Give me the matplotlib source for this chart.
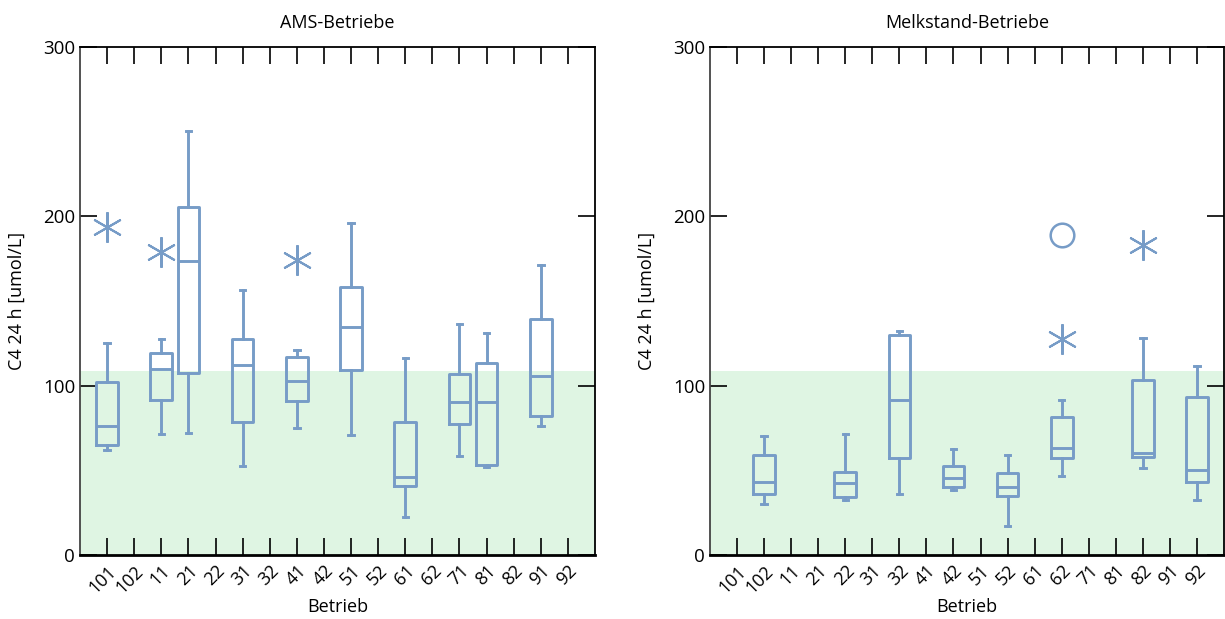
import matplotlib
matplotlib.use("Agg")
import matplotlib.pyplot as plt

plt.rcParams['font.family'] = ['Open Sans', 'DejaVu Sans']

titles = ["AMS-Betriebe", "Melkstand-Betriebe"]
ylabel = "C4 24 h [umol/L]"
xlabel = "Betrieb"
ref_upper = 108.5

# tick categories (same on both panels)
ams_ticks = ["101", "102", "11", "21", "22", "31", "32", "41", "42",
             "51", "52", "61", "62", "71", "81", "82", "91", "92"]
mk_ticks = ["101", "102", "11", "21", "22", "31", "32", "41", "42",
            "51", "52", "61", "62", "71", "81", "82", "91", "92"]

# AMS panel
ams_box_cats = ["101", "11", "21", "31", "41", "51", "61", "71", "81", "91"]
ams_whislo = [62.2, 71.3, 72.3, 52.4, 75.2, 71.1, 22.3, 58.3, 52.2, 76.2]
ams_q1 = [65.1, 91.3, 107.3, 78.5, 91.1, 109.1, 40.7, 77.6, 53.1, 82.1]
ams_med = [76.2, 109.8, 173.4, 112.4, 102.8, 134.8, 46.3, 90.2, 90.4, 105.7]
ams_q3 = [102.3, 119.5, 205.5, 127.4, 117.1, 158.3, 78.5, 106.7, 113.4, 139.2]
ams_whishi = [125.4, 127.4, 250.4, 156.3, 121.2, 196.2, 116.1, 136.2, 131.1, 171.3]
ams_star_cats = ["101", "11", "41"]
ams_star_vals = [193.9, 179.1, 174.2]
ams_circle_cats = []
ams_circle_vals = []

# Melkstand panel
mk_box_cats = ["102", "22", "32", "42", "52", "62", "82", "92"]
mk_whislo = [30.3, 32.3, 36.2, 38.2, 17.3, 46.5, 51.4, 32.3]
mk_q1 = [36.2, 34.4, 57.5, 40.4, 34.8, 57.5, 58.1, 43.1]
mk_med = [42.9, 42.3, 91.7, 45.5, 40.4, 63.2, 60.1, 50.2]
mk_q3 = [59.2, 49.2, 130.1, 52.8, 48.2, 81.7, 103.2, 93.3]
mk_whishi = [70.3, 71.3, 132.3, 62.6, 59.2, 91.3, 128.3, 111.4]
mk_star_cats = ["62", "82"]
mk_star_vals = [127.4, 183.3]
mk_circle_cats = ["62"]
mk_circle_vals = [189.0]

color = "#779cc7"
green = "#dff5e3"

fig = plt.figure(figsize=(12.25, 6.19), dpi=100)
axes = [fig.add_axes([80/1225, 64/619, 515/1225, 508/619]),
        fig.add_axes([710/1225, 64/619, 514/1225, 508/619])]

panels = [
    (ams_ticks, ams_box_cats, ams_whislo, ams_q1, ams_med, ams_q3, ams_whishi,
     ams_star_cats, ams_star_vals, ams_circle_cats, ams_circle_vals),
    (mk_ticks, mk_box_cats, mk_whislo, mk_q1, mk_med, mk_q3, mk_whishi,
     mk_star_cats, mk_star_vals, mk_circle_cats, mk_circle_vals),
]

for ax, title, p in zip(axes, titles, panels):
    ticks, bcats, wlo, q1, med, q3, whi, scats, svals, ccats, cvals = p
    pos = {c: i + 1 for i, c in enumerate(ticks)}
    ax.axhspan(0, ref_upper, color=green, zorder=0, lw=0)
    stats = [dict(whislo=a, q1=b, med=c, q3=d, whishi=e, fliers=[])
             for a, b, c, d, e in zip(wlo, q1, med, q3, whi)]
    lp = dict(color=color, linewidth=2.1)
    ax.bxp(stats, positions=[pos[c] for c in bcats], widths=0.8,
           boxprops=lp, whiskerprops=lp, capprops=lp, medianprops=lp,
           capwidths=0.2, showfliers=False, manage_ticks=False)
    ax.plot([pos[c] for c in scats], svals, linestyle='none', marker=(6, 2, 0),
            markersize=22, markeredgewidth=1.5, color=color)
    ax.plot([pos[c] for c in ccats], cvals, linestyle='none', marker='o',
            markersize=17, markerfacecolor='none', markeredgewidth=1.8, color=color)
    ax.set_xlim(0, len(ticks) + 1)
    ax.set_ylim(0, 300)
    ax.set_xticks(range(1, len(ticks) + 1))
    ax.set_xticklabels(ticks, rotation=45, ha='right', rotation_mode='anchor', fontsize=13)
    ax.set_yticks([0, 100, 200, 300])
    ax.tick_params(axis='y', labelsize=13.5)
    ax.tick_params(direction='in', length=12, width=1.2, top=True, right=True, color='black')
    ax.tick_params(axis='x', pad=5)
    ax.set_title(title, fontsize=13, pad=14)
    ax.set_ylabel(ylabel, fontsize=13, labelpad=12)
    ax.set_xlabel(xlabel, fontsize=13, labelpad=1)
    for s in ax.spines.values():
        s.set_linewidth(1.3)
        s.set_color('black')
    ax.spines['left'].set_color('#444444')
    ax.spines['bottom'].set_linewidth(2)

fig.savefig("out.png", dpi=100)
